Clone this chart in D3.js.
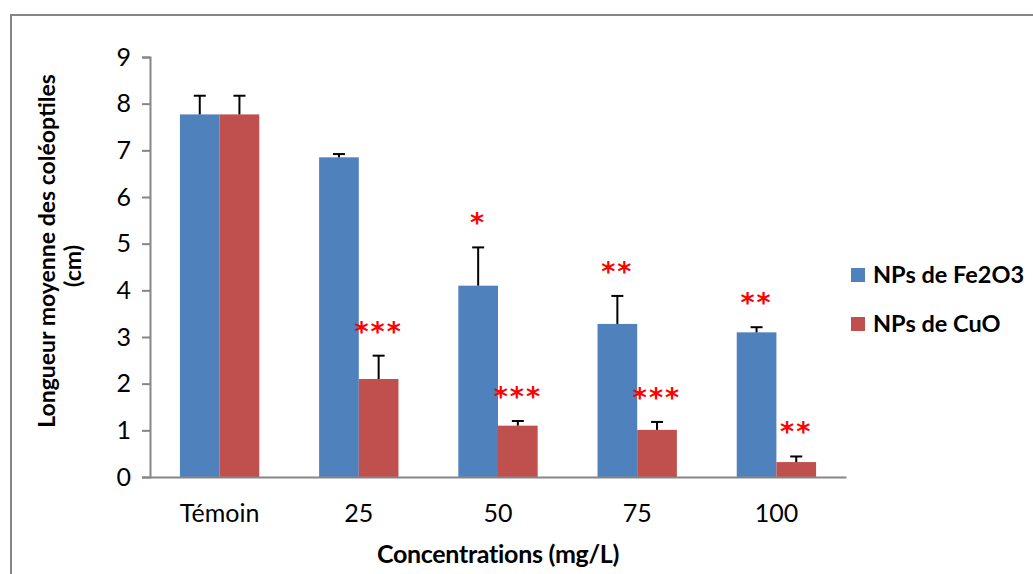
<!DOCTYPE html>
<html>
  <head>
    <meta charset="utf-8">
    <title>Longueur moyenne des coléoptiles</title>
    <script src="https://d3js.org/d3.v7.min.js"></script>
    <style>
      body { margin: 0; background: #fff; }
      text { font-family: Lato, "Open Sans", sans-serif; fill: #000; }
    </style>
  </head>
  <body>
    <script>
      // données
      const categories = ["Témoin", "25", "50", "75", "100"];
      const seriesNames = ["NPs de Fe2O3", "NPs de CuO"];
      const fe2o3 = [7.77, 6.85, 4.10, 3.28, 3.10];
      const fe2o3Err = [0.40, 0.07, 0.82, 0.60, 0.11];
      const fe2o3Stars = ["", "", "*", "**", "**"];
      const cuo = [7.77, 2.10, 1.10, 1.01, 0.32];
      const cuoErr = [0.40, 0.50, 0.10, 0.17, 0.12];
      const cuoStars = ["", "***", "***", "***", "**"];
      const yTicks = [0, 1, 2, 3, 4, 5, 6, 7, 8, 9];
      const colors = ["#4F81BD", "#C0504D"];

      const width = 1033, height = 574;
      const plot = { left: 150, right: 846, top: 57, bottom: 477 };

      const svg = d3.select("body").append("svg")
        .attr("width", width)
        .attr("height", height);

      // cadre du graphique
      svg.append("rect")
        .attr("x", 11).attr("y", 15)
        .attr("width", 1100).attr("height", 700)
        .attr("fill", "none")
        .attr("stroke", "#868686")
        .attr("stroke-width", 2);

      const x = d3.scaleBand()
        .domain(categories)
        .range([plot.left, plot.right])
        .paddingInner(0.43)
        .paddingOuter(0.215);

      const xSub = d3.scaleBand()
        .domain([0, 1])
        .range([0, x.bandwidth()]);

      const y = d3.scaleLinear()
        .domain([0, 9])
        .range([plot.bottom, plot.top]);

      const series = [
        { values: fe2o3, err: fe2o3Err, stars: fe2o3Stars },
        { values: cuo, err: cuoErr, stars: cuoStars }
      ];

      // axe Y
      const yAxis = svg.append("g")
        .attr("transform", "translate(" + plot.left + ",0)")
        .call(d3.axisLeft(y).tickValues(yTicks).tickSize(8).tickPadding(11).tickFormat(d3.format("d")));
      yAxis.selectAll("path, line").attr("stroke", "#868686").attr("stroke-width", 2);
      yAxis.selectAll("text").attr("font-size", 25).attr("font-family", "Lato").attr("fill", "#000");

      // barres
      series.forEach(function(s, si) {
        const g = svg.append("g");
        g.selectAll("rect")
          .data(s.values)
          .enter()
          .append("rect")
          .attr("x", function(d, i) { return x(categories[i]) + xSub(si); })
          .attr("y", function(d) { return y(d); })
          .attr("width", xSub.bandwidth())
          .attr("height", function(d) { return y(0) - y(d); })
          .attr("fill", colors[si]);

        // barres d'erreur (vers le haut)
        const cx = function(d, i) { return x(categories[i]) + xSub(si) + xSub.bandwidth() / 2; };
        g.selectAll("line.err")
          .data(s.values)
          .enter()
          .append("line")
          .attr("class", "err")
          .attr("x1", cx).attr("x2", cx)
          .attr("y1", function(d) { return y(d); })
          .attr("y2", function(d, i) { return y(d + s.err[i]); })
          .attr("stroke", "#000").attr("stroke-width", 2);
        g.selectAll("line.cap")
          .data(s.values)
          .enter()
          .append("line")
          .attr("class", "cap")
          .attr("x1", function(d, i) { return cx(d, i) - 6; })
          .attr("x2", function(d, i) { return cx(d, i) + 6; })
          .attr("y1", function(d, i) { return y(d + s.err[i]); })
          .attr("y2", function(d, i) { return y(d + s.err[i]); })
          .attr("stroke", "#000").attr("stroke-width", 2);

        // étoiles de significativité
        g.selectAll("text.star")
          .data(s.values)
          .enter()
          .append("text")
          .attr("class", "star")
          .attr("x", cx)
          .attr("y", function(d, i) { return y(d + s.err[i]) - 15; })
          .attr("text-anchor", "middle")
          .attr("font-size", 27)
          .attr("font-weight", "bold")
          .attr("letter-spacing", 2)
          .style("font-family", "'DejaVu Sans', sans-serif")
          .style("fill", "#FF0000")
          .text(function(d, i) { return s.stars[i]; });
      });

      // axe X
      const xAxis = svg.append("g")
        .attr("transform", "translate(0," + plot.bottom + ")")
        .call(d3.axisBottom(x).tickSize(0).tickPadding(27).tickSizeOuter(0));
      xAxis.select("path").attr("stroke", "#868686").attr("stroke-width", 2);
      xAxis.selectAll("text").attr("font-size", 25).attr("font-family", "Lato").attr("fill", "#000");

      // titres des axes
      svg.append("text")
        .attr("x", (plot.left + plot.right) / 2)
        .attr("y", 563)
        .attr("text-anchor", "middle")
        .attr("font-size", 25)
        .attr("font-weight", "bold")
        .attr("letter-spacing", -0.3)
        .text("Concentrations (mg/L)");

      const yTitle = svg.append("text")
        .attr("transform", "rotate(-90)")
        .attr("text-anchor", "middle")
        .attr("font-size", 23)
        .attr("font-weight", "bold");
      yTitle.append("tspan").attr("x", -251).attr("y", 55).text("Longueur moyenne des coléoptiles");
      yTitle.append("tspan").attr("x", -266).attr("y", 81).text("(cm)");

      // légende
      const legend = svg.append("g").attr("transform", "translate(851,268)");
      seriesNames.forEach(function(name, i) {
        legend.append("rect")
          .attr("x", 0).attr("y", i * 49)
          .attr("width", 14).attr("height", 14)
          .attr("fill", colors[i]);
        legend.append("text")
          .attr("x", 22).attr("y", i * 49 + 15)
          .attr("font-size", 23.5)
          .attr("font-weight", "bold")
          .text(name);
      });
    </script>
  </body>
</html>
